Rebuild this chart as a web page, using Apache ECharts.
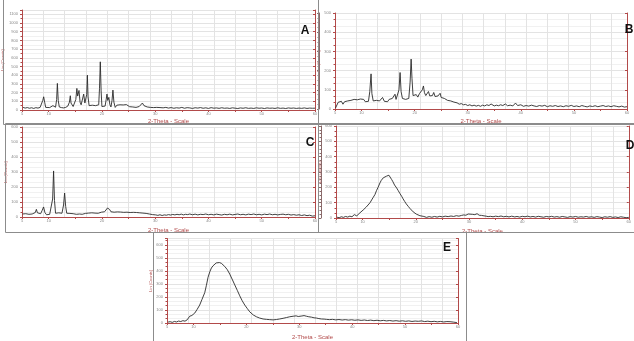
<!DOCTYPE html>
<html>
<head>
<meta charset="utf-8">
<script src="https://cdn.jsdelivr.net/npm/echarts@6/dist/echarts.min.js"></script>
<style>
  html, body { margin: 0; padding: 0; background: #fff; }
  #chart { width: 634px; height: 341px; }
</style>
</head>
<body>
<div id="chart"></div>
<script>
// 2-theta labels shown on every panel
const xLabels = [5, 10, 20, 30, 40, 50, 60];

// y tick labels per panel
const yTicksA = [0, 100, 200, 300, 400, 500, 600, 700, 800, 900, 1000, 1100];
const yTicksB = [0, 100, 200, 300, 400, 500];
const yTicksC = [0, 100, 200, 300, 400, 500, 600];
const yTicksD = [0, 100, 200, 300, 400, 500, 600];
const yTicksE = [0, 100, 200, 300, 400, 500, 600];

// patterns: [2-theta, counts]
const patternA = [[5.2,30],[5.6,22],[6.0,28],[6.4,20],[6.8,26],[7.2,18],[7.6,27],[8.0,22],[8.4,30],[8.7,40],[8.9,110],[9.07,152],[9.25,90],[9.45,30],[9.8,22],[10.2,28],[10.5,35],[10.8,50],[11.0,30],[11.3,32],[11.5,120],[11.64,306],[11.8,110],[12.0,35],[12.4,28],[12.8,24],[13.2,30],[13.6,45],[13.9,90],[14.07,164],[14.2,80],[14.4,70],[14.6,40],[14.8,35],[15.1,120],[15.3,248],[15.45,160],[15.7,225],[15.9,90],[16.1,60],[16.35,70],[16.58,183],[16.8,80],[17.0,60],[17.15,180],[17.27,401],[17.4,150],[17.6,50],[17.9,40],[18.2,55],[18.5,35],[18.8,50],[19.1,30],[19.4,60],[19.55,250],[19.7,554],[19.85,220],[20.0,40],[20.3,30],[20.6,45],[20.8,120],[20.95,183],[21.1,110],[21.3,145],[21.5,60],[21.7,35],[21.9,110],[22.07,229],[22.25,90],[22.5,30],[22.8,55],[23.1,48],[23.4,60],[23.7,45],[24.0,58],[24.3,40],[24.6,62],[24.9,44],[25.2,38],[25.5,50],[25.8,35],[26.1,42],[26.4,30],[26.7,45],[27.0,40],[27.3,55],[27.6,80],[27.9,50],[28.2,60],[28.5,35],[28.8,45],[29.1,30],[29.4,40],[29.7,28],[30.0,42],[30.3,30],[30.6,45],[30.9,28],[31.2,38],[31.5,25],[32,30],[32.5,22],[33,28],[33.5,20],[34,26],[34.5,22],[35,30],[35.5,20],[36,27],[36.5,24],[37,18],[37.5,26],[38,22],[38.5,28],[39,20],[39.5,25],[40,18],[40.5,27],[41,21],[41.5,24],[42,19],[42.5,26],[43,20],[43.5,23],[44,18],[44.5,25],[45,21],[45.5,17],[46,24],[46.5,20],[47,26],[47.5,19],[48,22],[48.5,18],[49,25],[49.5,20],[50,23],[50.5,17],[51,24],[51.5,20],[52,22],[52.5,18],[53,25],[53.5,19],[54,22],[54.5,17],[55,24],[55.5,20],[56,23],[56.5,18],[57,22],[57.5,19],[58,24],[58.5,18],[59,22],[59.5,20],[60,21]];

const patternB = [[5.1,5],[5.3,15],[5.6,35],[5.9,28],[6.2,40],[6.5,25],[6.8,38],[7.1,30],[7.4,42],[7.7,35],[8.0,45],[8.3,38],[8.6,50],[8.9,42],[9.2,48],[9.5,40],[9.8,52],[10.1,44],[10.4,50],[10.7,38],[11.0,46],[11.3,40],[11.55,90],[11.79,183],[11.95,80],[12.2,42],[12.5,36],[12.8,45],[13.1,38],[13.4,42],[13.7,35],[13.95,60],[14.1,68],[14.3,40],[14.6,45],[14.9,38],[15.2,50],[15.5,42],[15.8,55],[16.1,48],[16.3,77],[16.5,50],[16.8,60],[17.05,100],[17.26,190],[17.45,90],[17.7,55],[18.0,62],[18.3,50],[18.6,58],[18.9,55],[19.15,140],[19.34,260],[19.5,160],[19.7,70],[20.0,60],[20.3,75],[20.6,62],[20.9,80],[21.2,70],[21.45,100],[21.66,120],[21.85,85],[22.1,70],[22.35,75],[22.6,91],[22.85,68],[23.1,62],[23.35,70],[23.6,86],[23.85,65],[24.1,60],[24.4,68],[24.8,82],[25.0,60],[25.3,52],[25.6,55],[25.9,48],[26.2,45],[26.5,40],[26.8,42],[27.1,35],[27.4,36],[27.7,30],[28.0,32],[28.4,25],[28.8,28],[29.2,22],[29.6,24],[30.0,18],[30.4,22],[30.8,16],[31.2,20],[31.6,15],[32,19],[32.4,14],[32.8,20],[33.2,16],[33.6,22],[34,18],[34.4,26],[34.7,20],[35,16],[35.4,20],[35.8,17],[36.2,22],[36.6,18],[37.1,26],[37.5,17],[38,20],[38.5,16],[39,31],[39.4,18],[40,22],[40.5,14],[41,18],[41.5,15],[42,20],[42.5,16],[43,13],[43.5,18],[44,15],[44.5,19],[45,12],[45.5,17],[46,14],[46.5,18],[47,13],[47.5,16],[48,12],[48.5,17],[49,14],[49.5,19],[50,13],[50.5,16],[51,12],[51.5,18],[52,14],[52.5,11],[53,16],[53.5,13],[54,17],[54.5,12],[55,15],[55.5,18],[56,13],[56.5,16],[57,12],[57.5,17],[58,14],[58.5,11],[59,15],[59.5,10],[60,12]];

const patternC = [[5.1,20],[5.4,15],[5.7,22],[6.0,12],[6.3,18],[6.6,10],[6.9,20],[7.2,15],[7.5,30],[7.7,51],[7.9,28],[8.2,18],[8.5,22],[8.8,45],[9.05,67],[9.3,30],[9.6,15],[9.9,20],[10.2,18],[10.5,22],[10.75,120],[10.93,307],[11.1,110],[11.3,25],[11.6,20],[11.9,28],[12.2,22],[12.5,25],[12.8,80],[13.0,160],[13.2,70],[13.4,25],[13.7,20],[14.0,24],[14.3,18],[14.6,22],[14.9,20],[15.2,18],[15.5,22],[15.8,20],[16.07,33],[16.3,18],[16.6,22],[16.9,24],[17.2,20],[17.5,26],[17.8,24],[18.1,28],[18.4,22],[18.7,26],[19.0,30],[19.3,25],[19.6,28],[19.9,32],[20.2,30],[20.5,35],[20.8,45],[21.05,60],[21.25,67],[21.45,50],[21.7,35],[22.0,30],[22.3,32],[22.6,28],[22.9,34],[23.2,30],[23.5,33],[23.8,28],[24.1,31],[24.4,29],[24.7,32],[25.0,27],[25.3,30],[25.6,28],[25.9,31],[26.2,27],[26.5,30],[26.8,25],[27.1,28],[27.4,22],[27.7,26],[28.0,20],[28.3,24],[28.6,16],[28.9,20],[29.2,12],[29.5,16],[29.8,10],[30.1,14],[30.5,11],[30.9,15],[31.3,10],[31.7,14],[32.1,12],[32.5,16],[32.9,13],[33.3,17],[33.7,14],[34.1,18],[34.5,15],[34.9,19],[35.3,14],[35.7,18],[36.1,16],[36.5,20],[37,15],[37.5,19],[38,14],[38.5,18],[39,16],[39.5,20],[40,15],[40.5,18],[41,14],[41.5,19],[42,16],[42.5,13],[43,18],[43.5,15],[44,19],[44.5,14],[45,17],[45.5,20],[46,15],[46.5,18],[47,14],[47.5,19],[48,16],[48.5,20],[49,15],[49.5,18],[50,14],[50.5,19],[51,16],[51.5,20],[52,15],[52.5,18],[53,14],[53.5,17],[54,19],[54.5,15],[55,18],[55.5,13],[56,16],[56.5,12],[57,15],[57.5,10],[58,14],[58.5,9],[59,12],[59.5,6],[60,8]];

const patternD = [[5.2,5],[5.6,2],[6.0,8],[6.4,4],[6.8,10],[7.2,6],[7.6,12],[8.0,8],[8.44,22],[8.7,10],[8.9,14],[9.2,26],[9.5,34],[9.82,44],[10.1,52],[10.4,60],[10.7,72],[11.07,83],[11.4,100],[11.7,118],[12.0,135],[12.32,153],[12.6,178],[12.9,200],[13.26,229],[13.5,245],[13.88,262],[14.2,270],[14.5,273],[14.7,268],[14.94,279],[15.2,270],[15.45,251],[15.7,236],[16.0,215],[16.39,196],[16.7,178],[17.0,160],[17.33,142],[17.6,125],[17.9,108],[18.2,92],[18.57,76],[18.9,62],[19.2,50],[19.5,40],[19.82,33],[20.1,25],[20.4,20],[20.76,15],[21.1,8],[21.5,10],[22.0,4],[22.5,9],[23,5],[23.5,10],[24,6],[24.5,11],[25,7],[25.5,12],[26.07,9],[26.6,13],[27.1,10],[27.6,15],[28.1,12],[28.58,17],[29,20],[29.4,18],[29.83,26],[30.2,20],[30.6,24],[31.08,22],[31.5,28],[31.9,18],[32.33,17],[32.8,14],[33.2,12],[33.58,9],[34,11],[34.5,8],[35,12],[35.5,9],[36,13],[36.5,8],[37,11],[37.5,7],[38,12],[38.58,7],[39,10],[39.5,6],[40,11],[40.5,8],[41,12],[41.5,7],[42,10],[42.5,6],[43,11],[43.5,8],[44,5],[44.5,10],[45,7],[45.5,11],[46,6],[46.5,9],[47,5],[47.5,10],[48,7],[48.5,4],[49,9],[49.5,6],[50,10],[50.5,5],[51,8],[51.5,6],[52,10],[52.5,5],[53,8],[53.5,4],[54,9],[54.5,6],[55,3],[55.5,8],[56,5],[56.5,9],[57,4],[57.5,7],[58,3],[58.5,8],[59,5],[59.5,2],[60,4]];

const patternE = [[5.2,7],[5.6,10],[6.0,5],[6.4,12],[6.8,8],[7.2,15],[7.6,11],[8.0,18],[8.4,14],[8.8,24],[9.29,52],[9.7,58],[10.24,76],[10.7,105],[11.18,138],[11.6,180],[12.13,233],[12.45,290],[12.76,352],[13.1,395],[13.39,423],[13.7,440],[14.02,447],[14.3,462],[14.65,476],[14.9,465],[15.28,459],[15.6,448],[15.91,435],[16.4,410],[16.86,376],[17.3,338],[17.81,293],[18.3,250],[18.75,209],[19.2,172],[19.7,138],[20.2,110],[20.64,86],[21.3,62],[21.9,48],[22.5,38],[23.16,31],[23.8,28],[24.4,26],[25.05,24],[25.7,27],[26.3,31],[26.94,36],[27.6,42],[28.2,48],[28.84,52],[29.4,55],[29.8,50],[30.1,59],[30.5,54],[30.9,57],[31.36,52],[31.8,48],[32.3,45],[32.8,40],[33.25,38],[33.7,34],[34.2,31],[34.7,30],[35.14,28],[35.7,26],[36.3,28],[36.9,24],[37.5,27],[38.1,23],[38.7,26],[39.3,22],[39.9,25],[40.5,21],[41.1,24],[41.7,20],[42.3,23],[42.9,19],[43.5,22],[44.1,18],[44.7,21],[45.3,17],[45.9,20],[46.5,16],[47.1,19],[47.7,15],[48.3,18],[48.9,14],[49.5,17],[50.1,13],[50.7,16],[51.3,12],[51.9,15],[52.5,13],[53.1,16],[53.7,11],[54.3,14],[54.9,10],[55.5,13],[56.1,9],[56.7,12],[57.3,8],[57.9,11],[58.5,10],[59.1,7],[59.8,3]];

const red = '#b24a4a';
const gridColor = '#e3e3e3';
const minorColor = '#f1f1f1';

// panel placement in pixels
const panels = [
  { name: 'A', data: patternA, ticks: yTicksA, max: 1150, left: 22, top: 10, width: 293, height: 100, minor: 2, box: [3, -2, 315, 126], letter: [305, 31], extra: 0, gap: 8 },
  { name: 'B', data: patternB, ticks: yTicksB, max: 500, left: 335, top: 13, width: 292, height: 96, minor: 3, box: [318, -2, 320, 126], letter: [629, 30], extra: 16, gap: 9 },
  { name: 'C', data: patternC, ticks: yTicksC, max: 600, left: 22, top: 127, width: 293, height: 90, minor: 3, box: [5, 123, 313, 109], letter: [310, 143], extra: 0, gap: 10 },
  { name: 'D', data: patternD, ticks: yTicksD, max: 600, left: 336, top: 126, width: 293, height: 92, minor: 3, box: [318, 123, 320, 109], letter: [630, 146], extra: 15, gap: 10 },
  { name: 'E', data: patternE, ticks: yTicksE, max: 650, left: 167, top: 238.5, width: 291, height: 91, minor: 3, box: [153, 232, 313, 115], letter: [447, 248], extra: 0, gap: 11 }
];

const grids = [], xAxes = [], yAxes = [], series = [], graphics = [];

panels.forEach((p, i) => {
  grids.push({ left: p.left, top: p.top, width: p.width, height: p.height });

  const xIndex = xAxes.length;
  xAxes.push({
    gridIndex: i, type: 'value', min: 5, max: 60, interval: 5,
    axisLine: { lineStyle: { color: red, width: 1 } },
    axisTick: { length: 2, lineStyle: { color: red } },
    axisLabel: {
      fontSize: 4, color: '#888', margin: 2,
      formatter: v => xLabels.includes(v) ? String(v) : ''
    },
    splitLine: { show: false },
    name: '2-Theta - Scale', nameLocation: 'middle', nameGap: p.gap,
    nameTextStyle: { color: red, fontSize: 6, fontFamily: 'Liberation Sans' }
  });
  // vertical grid lines of the scan software
  xAxes.push({
    gridIndex: i, type: 'value', min: 0, max: 55, interval: 4, position: 'bottom',
    axisLine: { show: false }, axisTick: { show: false }, axisLabel: { show: false },
    splitLine: { lineStyle: { color: gridColor, width: 1 } }
  });

  const yIndex = yAxes.length;
  yAxes.push({
    gridIndex: i, type: 'value', min: 0, max: p.max, interval: 100,
    axisLine: { show: true, lineStyle: { color: red } },
    axisTick: { show: true, length: 2, lineStyle: { color: red } },
    minorTick: { show: true, splitNumber: p.minor, length: 1.5, lineStyle: { color: red } },
    splitLine: { lineStyle: { color: gridColor } },
    minorSplitLine: { show: true, lineStyle: { color: minorColor } },
    axisLabel: {
      fontSize: 4, color: '#888', margin: 4,
      formatter: v => p.ticks.includes(v) ? String(v) : ''
    },
    name: 'Lin (Counts)', nameLocation: 'middle', nameGap: 14, nameRotate: 90,
    nameTextStyle: { color: red, fontSize: 4 }
  });
  yAxes.push({
    gridIndex: i, type: 'value', min: 0, max: p.max, interval: 100, position: 'right',
    axisLine: { show: true, lineStyle: { color: red } },
    axisTick: { show: true, inside: true, length: 2, lineStyle: { color: red } },
    axisLabel: { show: false }, splitLine: { show: false }
  });
  if (p.extra) {
    yAxes.push({
      gridIndex: i, type: 'value', min: 0, max: p.max, interval: 100, position: 'left', offset: p.extra,
      axisLine: { show: true, lineStyle: { color: '#8a6a6a' } },
      axisTick: { show: true, length: 2, lineStyle: { color: '#8a6a6a' } },
      minorTick: { show: true, splitNumber: 4, length: 1.5, lineStyle: { color: '#8a6a6a' } },
      axisLabel: { show: false }, splitLine: { show: false }
    });
  }

  series.push({
    type: 'line', xAxisIndex: xIndex, yAxisIndex: yIndex, data: p.data,
    showSymbol: false, symbol: 'none',
    lineStyle: { color: '#2a2a2a', width: 0.9 }
  });

  graphics.push({
    type: 'rect', shape: { x: p.box[0] + 0.5, y: p.box[1] + 0.5, width: p.box[2], height: p.box[3] },
    style: { fill: 'none', stroke: '#8c8c8c', lineWidth: 1 }, z: 10
  });
  graphics.push({
    type: 'text', x: p.letter[0], y: p.letter[1], z: 11,
    style: {
      text: p.name, fill: '#111', font: 'bold 12px "Liberation Sans", Arial',
      textAlign: 'center', textVerticalAlign: 'middle'
    }
  });
});

const chart = echarts.init(document.getElementById('chart'));
chart.setOption({
  animation: false,
  backgroundColor: '#fff',
  grid: grids,
  xAxis: xAxes,
  yAxis: yAxes,
  series: series,
  graphic: graphics
});
</script>
</body>
</html>
